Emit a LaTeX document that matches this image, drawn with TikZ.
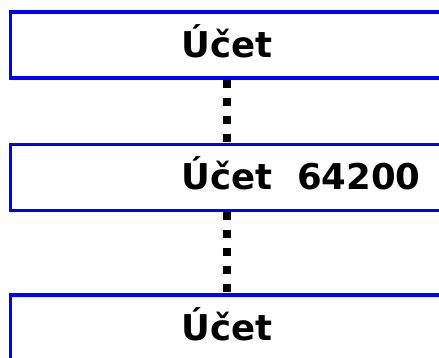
\documentclass[tikz,border=0pt]{standalone}
\usepackage{fontspec}
\setmainfont{DejaVu Sans}
\begin{document}
\begin{tikzpicture}[x=1pt,y=-1pt,
	ucet/.style={draw=blue,line width=3.5pt,rectangle,minimum width=433pt,minimum height=66pt,inner sep=0pt,text height=25pt,text depth=0pt,font=\fontsize{35.5}{42}\selectfont\bfseries},
	tecky/.style={line width=8pt,dash pattern=on 8pt off 10pt}]
			\useasboundingbox (0,0) rectangle (439,358);
			\clip (0,0) rectangle (439,358);
			\node[ucet] (u1) at (227,45) {Účet};
			\node[ucet] (u2) at (227,177.5) {\rlap{Účet~~64200}\phantom{Účet}};
			\node[ucet] (u3) at (227,328) {Účet};
			\draw[tecky] (u1.south) -- (u2.north);
			\draw[tecky] (u2.south) -- (u3.north);
		\end{tikzpicture}
\end{document}
